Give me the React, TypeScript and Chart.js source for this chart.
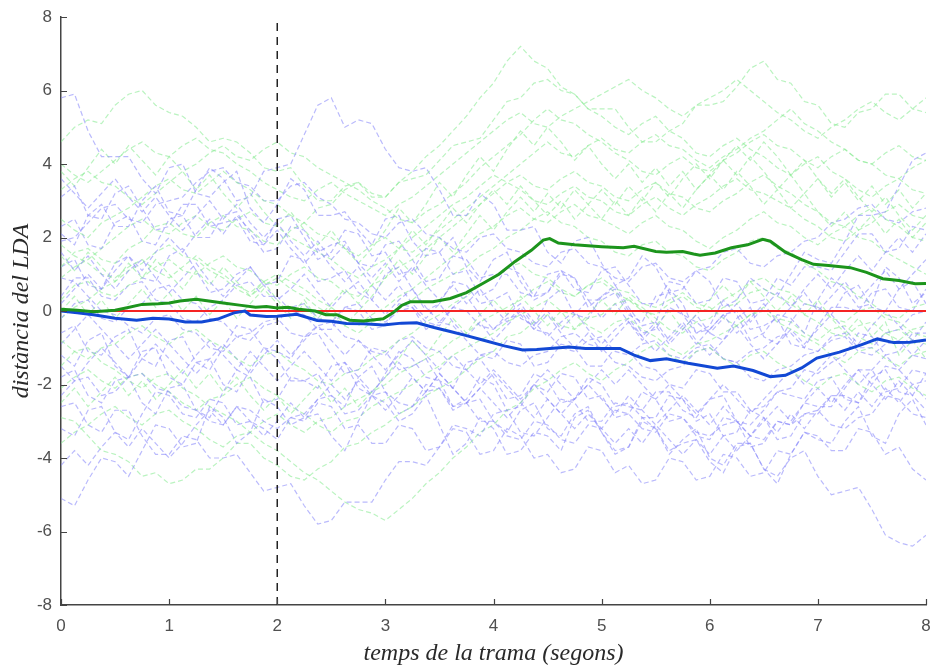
import React, { useEffect, useRef } from "react";
import { Chart, registerables } from "chart.js";
Chart.register(...registerables);

const traceTimes = [0,0.125,0.25,0.375,0.5,0.625,0.75,0.875,1,1.125,1.25,1.375,1.5,1.625,1.75,1.875,2,2.125,2.25,2.375,2.5,2.625,2.75,2.875,3,3.125,3.25,3.375,3.5,3.625,3.75,3.875,4,4.125,4.25,4.375,4.5,4.625,4.75,4.875,5,5.125,5.25,5.375,5.5,5.625,5.75,5.875,6,6.125,6.25,6.375,6.5,6.625,6.75,6.875,7,7.125,7.25,7.375,7.5,7.625,7.75,7.875,8];

const blueTraces: number[][] = [
  [5.8,5.9,4.9,4.2,4.2,4.2,3.6,3.2,3.9,4.0,3.2,3.1,3.5,3.8,2.8,2.4,2.9,3.6,3.3,2.6,2.6,2.7,2.2,1.8,2.5,2.6,1.9,1.5,1.6,2.0,1.2,0.8,1.4,1.6,0.8,0.3,0.5,1.0,0.9,0.1,0.4,0.7,0.1,-0.4,-0.3,0.6,0.2,-0.6,-0.4,0.3,-0.1,-0.8,-0.6,-0.1,-0.2,-0.6,0.3,0.9,0.6,0.1,0.2,1.2,0.9,0.2,0.5],
  [-5.1,-5.3,-4.6,-4.0,-4.1,-4.5,-3.8,-3.1,-3.2,-3.7,-3.6,-2.6,-2.9,-3.6,-3.3,-2.4,-2.6,-3.1,-2.9,-2.8,-3.4,-3.8,-3.0,-2.3,-2.5,-3.0,-2.8,-2.3,-3.1,-3.9,-3.6,-2.9,-3.2,-3.9,-3.8,-3.3,-3.4,-3.8,-2.9,-2.7,-3.3,-3.8,-3.7,-2.9,-3.2,-3.9,-3.5,-3.2,-4.0,-4.2,-3.6,-3.6,-4.3,-4.7,-3.9,-3.3,-3.5,-3.6,-3.0,-2.6,-3.4,-3.6,-2.8,-2.4,-3.1],
  [2.1,1.8,2.6,2.9,2.3,2.3,3.0,3.4,2.7,2.6,3.3,3.9,3.6,3.0,3.1,3.8,3.9,4.0,4.8,5.6,5.8,5.0,5.2,5.1,4.4,3.9,3.8,3.9,3.3,2.6,2.6,3.2,2.9,2.2,2.2,2.3,1.6,1.3,1.9,2.0,1.3,0.7,0.9,1.5,1.2,0.5,0.6,1.1,0.8,0.1,0.3,0.9,0.6,0.4,1.0,1.6,1.4,1.3,1.9,2.6,2.6,2.7,3.4,4.1,4.3],
  [-1.2,-1.5,-0.8,-0.6,-1.5,-1.8,-1.1,-1.0,-1.8,-2.0,-1.4,-1.3,-2.0,-2.2,-1.6,-1.0,-1.3,-1.9,-1.9,-1.7,-2.3,-2.6,-1.8,-1.5,-2.2,-2.8,-2.6,-2.0,-2.1,-2.7,-2.5,-2.4,-3.0,-3.3,-2.7,-2.5,-3.2,-3.4,-2.8,-2.6,-3.3,-3.9,-3.7,-3.0,-3.2,-3.8,-3.6,-3.5,-4.1,-4.4,-3.7,-3.6,-4.3,-4.5,-4.0,-3.8,-4.5,-5.0,-4.9,-4.8,-5.4,-6.1,-6.3,-6.4,-6.1],
  [-2.6,-2.5,-3.1,-3.3,-2.7,-2.7,-3.4,-3.9,-3.9,-3.4,-3.5,-4.0,-4.0,-3.9,-4.4,-4.9,-4.8,-4.7,-5.3,-5.8,-5.7,-5.2,-5.2,-5.2,-4.6,-4.1,-4.1,-4.2,-3.7,-3.1,-3.2,-3.4,-2.8,-2.7,-3.3,-3.4,-2.9,-2.4,-2.5,-3.0,-3.0,-2.5,-2.6,-2.7,-2.2,-2.2,-2.7,-2.9,-2.4,-2.3,-3.0,-3.1,-2.7,-2.2,-2.3,-2.4,-1.9,-1.8,-2.4,-2.5,-2.0,-1.5,-1.6,-2.0,-1.9],
  [1.2,1.4,0.7,0.6,1.3,1.5,0.9,0.8,1.5,1.7,1.1,0.5,0.6,1.0,1.2,0.7,0.8,1.5,1.4,0.8,0.9,1.1,0.5,0.3,1.0,1.2,0.6,0.0,0.2,0.8,0.7,0.2,0.3,0.5,-0.2,-0.4,0.3,0.6,-0.1,-0.2,0.4,0.6,0.0,-0.6,-0.5,0.1,-0.1,-0.3,-0.6,-0.8,-0.2,0.1,-0.7,-0.9,-0.3,0.2,0.1,-0.1,0.5,0.7,0.1,0.0,0.6,0.8,0.2],
  [-0.6,-0.4,-1.1,-1.2,-0.7,-0.5,-1.3,-1.5,-0.8,-0.7,-1.4,-1.6,-1.0,-0.4,-0.5,-1.0,-1.1,-1.3,-0.7,-0.6,-1.2,-1.7,-1.6,-1.0,-1.1,-1.6,-1.5,-1.3,-1.9,-2.1,-1.4,-1.3,-1.8,-2.4,-2.3,-1.7,-1.9,-2.5,-2.4,-1.8,-2.0,-2.6,-2.5,-2.9,-2.9,-2.3,-2.4,-3.0,-2.8,-3.4,-3.3,-2.7,-2.9,-3.5,-3.4,-2.8,-2.8,-2.3,-2.3,-2.5,-1.8,-1.6,-2.2,-2.3,-1.7],
  [3.1,3.4,2.6,2.5,3.2,3.4,2.8,2.2,2.3,2.9,2.9,2.3,2.4,2.5,1.9,1.8,2.5,2.6,2.0,1.4,1.6,2.2,2.1,1.5,1.6,1.0,1.1,1.7,1.6,1.0,1.1,0.4,0.6,1.2,1.0,0.4,0.5,1.1,0.9,0.3,0.3,0.5,-0.1,-0.3,0.4,0.5,-0.1,-0.6,-0.5,-0.1,0.0,-0.5,-0.4,-0.2,-0.9,-1.0,-0.4,0.1,0.1,0.0,0.5,0.6,0.1,0.0,0.6],
  [-1.8,-1.6,-2.3,-2.5,-1.9,-1.8,-2.5,-2.8,-2.1,-2.0,-2.7,-2.9,-2.2,-1.6,-1.8,-2.5,-2.4,-1.8,-1.9,-2.1,-1.5,-1.4,-2.1,-2.3,-1.7,-1.1,-1.3,-1.8,-1.9,-2.6,-2.4,-1.8,-2.0,-2.7,-2.6,-2.0,-2.2,-1.7,-1.8,-2.4,-2.3,-2.9,-2.8,-2.2,-2.4,-3.0,-2.9,-3.4,-3.5,-2.9,-3.0,-3.7,-3.6,-3.0,-3.1,-2.5,-2.6,-2.6,-2.1,-1.6,-1.6,-2.2,-2.1,-1.6,-1.7],
  [0.4,0.9,0.9,0.4,0.3,0.7,0.8,0.3,0.2,-0.2,-0.3,0.1,0.3,0.7,0.8,0.4,0.4,0.0,-0.1,-0.5,-0.5,0.1,0.0,-0.5,-0.4,0.2,0.1,-0.5,-0.3,-0.4,-0.8,-1.2,-1.3,-0.8,-0.9,-1.5,-1.4,-0.9,-1.0,-1.5,-1.5,-1.0,-1.1,-1.5,-1.6,-2.0,-2.1,-1.6,-1.7,-2.2,-2.2,-2.7,-2.6,-2.2,-2.1,-1.6,-1.7,-1.4,-1.2,-0.6,-0.7,-1.2,-1.1,-0.6,-0.6],
  [2.3,2.5,1.8,1.7,2.4,2.6,1.9,1.8,2.5,2.6,2.0,2.0,2.6,2.7,2.1,1.6,1.7,2.3,2.2,1.6,1.8,1.9,1.3,1.2,1.8,1.9,1.4,0.8,0.9,1.5,1.4,0.9,1.0,1.0,0.5,0.4,1.0,1.1,0.6,0.5,1.1,1.2,0.7,0.2,0.2,0.8,0.7,0.2,0.3,0.9,0.8,0.2,0.3,0.9,0.7,1.2,1.2,1.1,1.6,2.1,2.1,1.6,1.7,2.3,2.2],
  [-3.2,-3.4,-2.7,-2.6,-3.3,-3.5,-2.8,-2.2,-2.3,-2.8,-2.9,-2.4,-2.5,-3.1,-3.0,-3.2,-3.5,-2.9,-3.0,-2.5,-2.6,-3.2,-3.1,-3.6,-3.6,-3.1,-3.2,-3.8,-3.7,-3.2,-3.3,-3.9,-3.8,-3.2,-3.4,-4.0,-3.9,-4.4,-4.3,-3.7,-3.8,-4.4,-4.2,-4.7,-4.6,-4.0,-4.1,-4.6,-4.5,-3.9,-4.0,-4.5,-4.4,-3.8,-3.9,-3.3,-3.4,-3.8,-3.8,-3.2,-3.3,-3.9,-3.7,-4.3,-4.6],
  [-0.2,0.2,0.3,-0.2,-0.3,0.1,0.2,0.6,0.7,0.3,0.2,-0.2,-0.3,-0.7,-0.8,-0.4,-0.3,0.1,0.2,-0.2,-0.3,-0.7,-0.8,-1.1,-1.2,-0.8,-0.7,-1.0,-1.1,-1.5,-1.6,-1.2,-1.1,-1.4,-1.5,-1.2,-1.1,-0.7,-0.6,-0.9,-1.0,-1.4,-1.5,-1.8,-1.9,-1.6,-1.5,-1.1,-1.0,-1.3,-1.4,-1.8,-1.9,-1.6,-1.5,-1.2,-1.1,-0.7,-0.6,-1.0,-1.0,-0.6,-0.5,-0.1,0.0],
  [1.9,2.0,2.4,2.8,2.9,2.5,2.4,2.9,3.0,3.1,3.5,3.8,3.9,3.5,3.4,3.0,3.0,3.4,3.5,3.1,2.9,2.5,2.4,2.1,2.0,2.4,2.5,2.1,2.0,1.7,1.6,2.0,2.1,1.7,1.6,1.3,1.2,1.6,1.7,1.3,1.2,0.9,0.8,1.2,1.3,0.9,0.8,1.1,1.2,1.6,1.7,1.3,1.2,1.5,1.6,1.9,2.0,2.4,2.5,2.8,2.9,2.5,2.4,2.7,2.8],
  [-2.3,-1.9,-1.8,-2.3,-2.2,-1.8,-1.7,-2.1,-2.2,-2.6,-2.7,-3.0,-3.1,-2.6,-2.7,-3.0,-3.2,-2.9,-2.8,-2.4,-2.3,-2.8,-2.7,-2.3,-2.2,-2.5,-2.6,-2.2,-2.1,-2.6,-2.5,-3.0,-3.0,-3.4,-3.5,-3.0,-3.1,-3.5,-3.6,-3.1,-3.2,-2.7,-2.8,-3.2,-3.3,-2.8,-2.9,-3.3,-3.4,-3.1,-3.0,-3.4,-3.5,-3.0,-3.1,-2.8,-2.7,-3.1,-3.2,-2.9,-2.8,-2.3,-2.4,-2.8,-2.9],
  [0.9,0.8,0.4,0.0,-0.1,-0.4,-0.6,-0.2,-0.1,-0.5,-0.6,-1.0,-1.1,-0.7,-0.6,-0.3,-0.2,-0.6,-0.7,-0.4,-0.3,0.1,0.2,-0.2,-0.3,0.0,0.1,-0.3,-0.4,0.1,0.0,-0.4,-0.5,-0.2,-0.1,-0.5,-0.6,-1.0,-1.1,-0.8,-0.7,-1.1,-1.2,-0.9,-0.8,-1.2,-1.3,-1.0,-0.9,-1.3,-1.4,-1.1,-1.0,-0.7,-0.6,-1.0,-1.1,-0.8,-0.7,-1.1,-1.2,-0.9,-0.8,-1.2,-1.3],
  [1.6,1.1,1.5,1.0,0.6,1.1,1.4,0.9,0.5,0.9,1.3,0.8,0.4,0.8,1.2,0.7,0.3,0.6,1.0,0.5,0.1,0.5,0.8,0.3,-0.1,0.3,0.6,0.1,-0.3,0.1,0.4,-0.1,-0.5,-0.1,0.2,-0.3,-0.7,-0.3,0.0,-0.5,-0.9,-0.5,-0.2,-0.7,-1.1,-0.7,-0.3,-0.8,-1.2,-0.8,-0.4,-0.9,-1.3,-0.9,-0.5,-0.9,-0.5,-0.1,-0.5,-0.9,-0.4,0.0,-0.4,-0.8,-0.3],
  [-1.5,-1.9,-1.4,-1.0,-1.4,-1.8,-1.3,-0.9,-1.3,-1.7,-1.2,-0.8,-1.2,-1.6,-1.1,-1.5,-1.9,-1.5,-1.1,-1.5,-1.9,-1.4,-1.8,-2.2,-1.8,-1.4,-1.8,-2.2,-1.7,-2.1,-2.5,-2.1,-1.7,-2.1,-2.5,-2.0,-2.4,-2.8,-2.4,-2.0,-2.4,-2.8,-2.3,-2.7,-3.1,-2.7,-2.3,-2.7,-3.1,-2.6,-3.0,-3.4,-3.0,-2.6,-3.0,-2.5,-2.1,-2.5,-2.0,-1.6,-2.0,-2.4,-1.9,-2.3,-2.7],
  [0.2,0.6,1.0,0.6,1.1,1.5,1.1,1.6,2.0,1.6,2.1,2.5,2.1,2.6,2.2,1.8,2.2,1.7,1.3,1.7,1.2,0.8,1.2,0.7,0.3,0.7,0.2,-0.2,0.2,-0.3,-0.7,-0.3,-0.8,-0.4,0.0,-0.5,-0.1,-0.6,-1.0,-0.6,-1.1,-0.7,-0.3,-0.8,-0.4,-0.9,-0.5,-0.1,-0.6,-0.2,0.2,-0.3,0.1,0.5,0.1,0.6,1.0,0.6,1.1,1.5,1.1,1.6,2.0,1.6,2.1],
  [-0.9,-0.5,-0.1,-0.5,-0.9,-1.3,-0.9,-0.5,-0.9,-1.3,-1.7,-1.3,-0.9,-1.3,-1.7,-1.2,-0.8,-1.2,-0.8,-0.4,-0.8,-1.2,-0.8,-1.2,-1.6,-1.2,-0.8,-1.2,-1.6,-1.2,-1.6,-2.0,-1.6,-2.0,-2.4,-2.0,-1.6,-2.0,-2.4,-2.0,-1.6,-2.0,-1.6,-2.0,-2.4,-2.0,-2.4,-2.8,-2.4,-2.0,-2.4,-2.8,-2.4,-2.0,-1.6,-2.0,-1.6,-1.2,-1.6,-2.0,-1.6,-1.2,-1.6,-1.2,-0.8],
  [3.6,3.2,2.8,3.2,3.6,3.1,2.7,3.1,2.6,2.2,2.6,3.0,2.5,2.9,2.4,2.0,2.4,1.9,1.5,1.9,1.4,1.8,1.3,0.9,1.3,0.8,1.2,0.7,0.3,0.7,0.2,0.6,0.1,-0.3,0.1,-0.4,0.0,-0.5,-0.1,0.3,-0.2,0.2,-0.3,-0.7,-0.3,-0.8,-0.4,-0.9,-0.5,-0.1,-0.6,-0.2,0.2,-0.3,0.1,0.5,0.0,0.4,0.8,0.3,0.7,1.1,0.6,1.0,1.4],
  [-4.2,-3.8,-4.2,-3.7,-3.3,-3.7,-3.2,-3.6,-4.0,-3.6,-3.1,-2.7,-3.1,-2.6,-3.0,-3.4,-3.0,-2.5,-2.9,-2.4,-2.0,-2.4,-1.9,-2.3,-2.7,-2.3,-1.8,-2.2,-1.7,-2.1,-2.5,-2.1,-2.5,-2.9,-2.5,-2.9,-2.4,-2.8,-3.2,-2.8,-3.2,-3.6,-3.2,-3.6,-3.1,-3.5,-3.9,-3.5,-3.9,-3.4,-3.8,-3.4,-2.9,-3.3,-2.8,-3.2,-2.7,-2.3,-2.7,-2.2,-2.6,-2.1,-2.5,-2.0,-2.4],
];

const greenTraces: number[][] = [
  [4.6,5.0,5.2,5.1,5.6,5.9,6.0,5.6,5.4,5.3,5.0,4.6,4.7,4.6,4.3,3.9,3.8,3.9,3.4,3.0,3.0,3.4,3.5,3.1,3.1,3.5,3.6,3.7,4.1,4.5,4.6,4.7,5.2,5.7,5.8,6.2,6.3,6.0,5.9,5.5,5.5,5.5,5.0,4.6,4.6,4.9,5.1,5.6,5.6,5.7,6.1,6.6,6.8,6.3,6.2,5.7,5.6,5.1,5.0,5.4,5.5,5.9,5.9,5.5,5.4],
  [-2.9,-3.0,-3.4,-3.8,-3.9,-4.1,-4.5,-4.4,-4.7,-4.6,-4.3,-4.3,-4.0,-3.6,-3.6,-4.0,-4.2,-4.5,-4.6,-4.3,-4.1,-3.7,-3.6,-3.3,-3.1,-2.8,-2.6,-2.3,-2.1,-1.9,-1.6,-1.3,-1.1,-0.7,-0.6,-0.3,-0.1,-0.4,-0.5,-0.2,-0.1,0.2,0.3,0.1,-0.2,-0.5,-0.6,-0.3,-0.2,0.1,0.2,0.5,0.6,0.4,0.2,-0.1,-0.3,-0.6,-0.7,-0.4,-0.3,-0.6,-0.8,-0.5,-0.4],
  [1.2,1.6,1.7,1.4,1.3,1.7,1.9,2.3,2.4,2.1,2.0,2.4,2.6,2.3,2.2,1.9,1.8,2.2,2.4,2.8,2.9,3.3,3.5,3.2,3.1,3.5,3.8,4.2,4.5,4.9,5.3,5.8,6.2,6.8,7.2,6.8,6.6,6.1,5.9,5.5,5.3,5.0,4.8,5.1,5.3,4.9,4.7,4.3,4.2,4.5,4.7,4.4,4.2,3.9,3.7,4.0,4.2,3.8,3.6,3.3,3.1,3.4,3.6,3.3,3.2],
  [-1.5,-1.1,-1.0,-1.4,-1.6,-1.9,-2.1,-1.8,-1.7,-2.1,-2.3,-2.6,-2.8,-3.0,-3.3,-3.6,-3.8,-4.1,-4.4,-4.6,-4.9,-5.2,-5.4,-5.5,-5.7,-5.4,-5.1,-4.7,-4.4,-4.0,-3.7,-3.3,-3.1,-2.7,-2.5,-2.1,-1.9,-1.6,-1.4,-1.7,-1.9,-1.6,-1.4,-1.1,-0.9,-1.2,-1.4,-1.1,-1.0,-1.3,-1.5,-1.2,-1.1,-1.4,-1.6,-1.9,-2.1,-1.8,-1.7,-2.0,-2.2,-1.9,-1.8,-2.1,-2.3],
  [0.3,0.7,0.8,0.5,0.4,0.7,0.9,1.2,1.4,1.1,1.0,1.3,1.5,1.2,1.1,0.8,0.7,1.0,1.2,0.9,0.8,0.5,0.4,0.7,0.9,1.2,1.4,1.7,2.0,2.3,2.6,2.9,3.2,3.5,3.7,3.4,3.3,3.6,3.8,3.5,3.4,3.1,3.0,3.3,3.5,3.2,3.1,2.8,2.7,3.0,3.2,3.5,3.7,3.4,3.2,2.9,2.7,2.4,2.3,2.6,2.8,2.5,2.3,2.0,1.9],
  [2.5,2.2,2.0,2.4,2.6,2.8,3.1,3.4,3.6,3.3,3.2,3.5,3.8,3.5,3.3,3.0,2.9,2.6,2.4,2.1,2.0,1.7,1.5,1.8,2.0,1.7,1.6,1.9,2.2,2.5,2.8,3.1,3.4,3.7,4.0,4.3,4.6,4.3,4.2,4.5,4.7,4.4,4.3,4.6,4.8,4.5,4.4,4.1,3.9,4.2,4.4,4.7,4.9,5.2,5.5,5.1,4.9,4.6,4.4,4.1,4.0,4.3,4.5,4.2,4.1],
  [-0.8,-1.1,-1.3,-1.0,-0.9,-0.6,-0.4,-0.7,-0.9,-0.6,-0.5,-0.8,-1.0,-1.3,-1.5,-1.2,-1.1,-1.4,-1.6,-1.9,-2.0,-1.7,-1.6,-1.3,-1.1,-0.8,-0.6,-0.3,-0.1,0.2,0.4,0.7,0.9,1.2,1.3,1.0,0.9,0.6,0.4,0.7,0.8,0.5,0.3,0.0,-0.1,0.2,0.4,0.1,0.0,0.3,0.5,0.8,0.9,0.6,0.5,0.2,0.1,-0.2,-0.3,0.0,0.1,-0.2,-0.3,-0.6,-0.7],
  [3.3,3.6,3.8,3.5,3.4,3.1,2.9,3.2,3.5,3.8,4.0,4.3,4.5,4.2,4.1,4.4,4.6,4.3,4.2,3.9,3.7,3.5,3.3,3.0,2.8,2.5,2.4,2.7,2.9,3.2,3.5,3.9,4.2,4.5,4.8,5.2,5.5,5.2,5.1,4.8,4.6,4.3,4.1,3.8,3.7,4.0,4.2,3.9,3.8,4.1,4.3,4.6,4.8,4.5,4.4,4.1,3.9,4.2,4.4,4.1,4.0,3.7,3.6,3.9,4.1],
  [-2.1,-1.8,-1.6,-1.9,-2.1,-1.8,-1.7,-2.0,-2.2,-2.5,-2.7,-2.4,-2.3,-2.0,-1.8,-2.1,-2.3,-2.6,-2.8,-3.1,-3.3,-3.0,-2.9,-2.6,-2.4,-2.2,-2.0,-1.7,-1.5,-1.2,-1.0,-0.8,-0.6,-0.3,-0.1,0.1,0.3,0.0,-0.1,-0.4,-0.6,-0.3,-0.2,-0.5,-0.7,-1.0,-1.2,-0.9,-0.8,-0.6,-0.4,-0.1,0.0,-0.3,-0.5,-0.7,-0.9,-1.2,-1.4,-1.1,-1.0,-1.3,-1.5,-1.2,-1.1],
  [1.8,1.5,1.3,1.0,0.9,1.2,1.4,1.1,0.9,1.2,1.5,1.2,1.0,0.7,0.5,0.8,1.0,0.8,0.6,0.3,0.1,-0.2,-0.4,-0.1,0.1,0.4,0.6,0.9,1.2,1.5,1.8,2.1,2.3,2.6,2.8,2.5,2.4,2.7,2.9,2.6,2.5,2.3,2.1,2.4,2.6,2.3,2.2,1.9,1.7,2.0,2.2,2.5,2.7,2.4,2.3,2.0,1.8,2.1,2.3,2.0,1.9,1.6,1.4,1.2,1.0],
  [-0.2,0.1,0.3,0.6,0.8,1.1,1.3,1.6,1.8,1.5,1.4,1.1,0.9,0.6,0.4,0.7,0.9,0.6,0.4,0.1,-0.1,-0.4,-0.6,-0.3,-0.2,0.1,0.3,0.6,0.8,1.0,1.2,1.5,1.7,2.0,2.2,2.5,2.7,2.4,2.3,2.0,1.9,1.6,1.5,1.8,1.9,1.6,1.5,1.2,1.1,1.4,1.6,1.9,2.0,1.7,1.6,1.3,1.1,0.8,0.7,0.4,0.2,-0.1,-0.2,0.1,0.2],
  [4.0,3.7,3.5,3.8,4.1,4.4,4.6,4.3,4.2,4.5,4.7,4.4,4.3,4.0,3.8,3.5,3.3,3.1,3.0,3.3,3.5,3.2,3.0,2.8,2.6,2.9,3.1,3.4,3.7,4.0,4.3,4.6,4.9,5.2,5.4,5.1,5.0,5.3,5.5,5.7,5.9,6.1,6.3,6.0,5.8,5.5,5.3,5.6,5.8,6.0,6.3,6.0,5.7,5.4,5.2,4.9,4.7,5.0,5.2,5.5,5.7,5.4,5.2,5.5,5.8],
  [-3.6,-3.3,-3.1,-2.8,-2.6,-2.9,-3.1,-2.8,-2.7,-3.0,-3.2,-3.5,-3.7,-3.4,-3.3,-3.0,-2.8,-3.1,-3.3,-3.0,-2.9,-2.6,-2.4,-2.2,-2.0,-1.7,-1.5,-1.3,-1.1,-0.8,-0.6,-0.3,-0.1,0.1,0.3,0.6,0.8,0.5,0.4,0.7,0.9,0.6,0.5,0.2,0.1,0.3,0.5,0.2,0.1,-0.2,-0.4,-0.1,0.1,-0.2,-0.3,-0.6,-0.8,-0.5,-0.4,-0.7,-0.9,-0.6,-0.5,-0.8,-0.9],
  [0.9,1.2,1.4,1.7,2.0,2.3,2.5,2.2,2.1,2.4,2.6,2.3,2.2,2.5,2.7,2.4,2.3,2.0,1.8,1.6,1.4,1.1,0.9,1.2,1.4,1.7,2.0,2.3,2.6,2.9,3.1,3.4,3.7,3.5,3.3,3.0,2.9,3.2,3.4,3.1,3.0,2.7,2.6,2.9,3.1,2.8,2.6,2.9,3.1,3.4,3.6,3.3,3.2,3.0,2.8,2.5,2.3,2.0,1.9,2.2,2.4,2.7,2.9,2.6,2.5],
  [0.0,0.4,-0.1,0.3,-0.2,0.2,0.6,0.1,0.5,0.0,0.4,-0.1,0.3,-0.2,0.2,0.6,0.2,-0.2,0.2,-0.3,0.1,-0.4,0.0,0.4,0.9,1.4,1.0,1.5,2.0,1.6,2.1,2.6,2.2,2.7,3.1,2.7,3.2,2.8,3.3,2.9,2.5,3.0,2.6,3.1,2.7,3.2,2.8,3.3,3.7,3.3,3.8,3.4,2.9,3.3,2.8,3.2,2.7,2.3,2.7,2.2,2.6,2.1,2.5,2.0,2.4],
  [1.5,1.1,1.6,1.2,0.8,1.3,0.9,1.4,1.0,0.6,1.1,0.7,1.2,0.8,0.4,0.8,0.3,-0.1,0.3,-0.2,0.2,0.6,0.2,0.7,1.2,1.7,2.2,1.8,2.3,2.8,2.4,2.9,3.3,2.9,3.4,3.0,2.6,3.0,2.5,2.9,3.3,2.9,3.4,3.0,3.5,3.1,3.6,4.0,3.6,4.1,4.5,4.1,4.6,4.2,3.7,4.1,3.6,3.2,3.6,3.1,2.7,3.1,2.6,2.2,2.6],
  [-2.5,-2.1,-2.6,-2.2,-1.8,-2.3,-1.9,-2.4,-2.0,-1.6,-2.1,-1.7,-2.2,-1.8,-2.3,-2.7,-2.3,-2.8,-2.4,-2.0,-2.5,-2.1,-2.6,-2.2,-1.8,-1.3,-0.8,-1.2,-0.7,-0.2,-0.6,-0.1,0.3,-0.1,0.4,0.0,-0.4,0.0,-0.5,-0.1,0.3,-0.1,0.4,0.0,-0.4,0.0,-0.5,-0.1,0.3,0.7,0.3,0.8,0.4,0.0,0.4,-0.1,0.3,-0.2,-0.6,-0.2,-0.7,-0.3,-1.2,-0.8,-1.3],
  [3.8,3.4,3.9,4.4,4.0,4.5,4.1,3.7,4.2,3.8,3.3,3.7,3.2,2.8,3.2,2.7,2.3,2.7,2.2,1.8,2.2,1.7,1.3,1.7,2.2,2.8,2.4,2.9,3.5,3.1,3.7,4.2,3.8,4.4,4.9,4.5,5.0,4.6,4.1,4.5,4.0,3.6,4.0,3.5,3.9,3.4,3.8,3.3,3.7,4.1,3.7,4.2,3.8,3.3,3.7,3.2,3.6,3.1,3.5,3.0,3.4,2.9,3.3,2.8,3.2],
];

const greenMeanX = [0,0.15,0.3,0.5,0.6,0.75,0.9,1.0,1.1,1.25,1.4,1.5,1.65,1.8,1.9,2.0,2.1,2.2,2.35,2.45,2.55,2.67,2.8,2.98,3.07,3.15,3.23,3.44,3.6,3.75,3.9,4.05,4.2,4.35,4.46,4.52,4.6,4.75,5.0,5.2,5.3,5.5,5.6,5.75,5.85,5.91,6.05,6.2,6.35,6.49,6.56,6.7,6.85,6.96,7.1,7.3,7.45,7.6,7.75,7.9,8.0];
const greenMeanY = [0.05,0.02,-0.02,0.02,0.08,0.18,0.2,0.22,0.27,0.32,0.26,0.22,0.16,0.1,0.12,0.08,0.1,0.05,0.0,-0.1,-0.1,-0.25,-0.27,-0.21,-0.05,0.15,0.25,0.25,0.34,0.5,0.75,1.0,1.35,1.65,1.93,1.97,1.85,1.8,1.75,1.72,1.76,1.62,1.6,1.62,1.55,1.52,1.58,1.72,1.8,1.95,1.9,1.6,1.4,1.27,1.24,1.18,1.05,0.88,0.83,0.74,0.75];

const blueMeanX = [0,0.15,0.3,0.5,0.7,0.85,1.0,1.15,1.3,1.45,1.6,1.7,1.75,1.9,2.0,2.18,2.37,2.5,2.64,2.8,2.98,3.15,3.29,3.45,3.6,3.75,3.9,4.1,4.27,4.4,4.52,4.7,4.85,4.99,5.17,5.3,5.45,5.6,5.8,6.07,6.22,6.4,6.56,6.7,6.85,6.99,7.2,7.4,7.55,7.7,7.85,8.0];
const blueMeanY = [0.0,-0.05,-0.1,-0.2,-0.25,-0.2,-0.22,-0.3,-0.3,-0.22,-0.05,0.0,-0.11,-0.15,-0.14,-0.09,-0.26,-0.28,-0.34,-0.35,-0.38,-0.33,-0.32,-0.45,-0.56,-0.67,-0.79,-0.95,-1.06,-1.05,-1.02,-0.98,-1.02,-1.02,-1.02,-1.2,-1.35,-1.3,-1.42,-1.56,-1.5,-1.62,-1.79,-1.75,-1.55,-1.28,-1.12,-0.92,-0.76,-0.86,-0.85,-0.79];

const xTicks = [0, 1, 2, 3, 4, 5, 6, 7, 8];
const yTicks = [-8, -6, -4, -2, 0, 2, 4, 6, 8];
const xRange = [0, 8];
const yRange = [-8, 8];
const markerTime = 2;
const xTitle = "temps de la trama (segons)";
const yTitle = "distància del LDA";

const inwardTicks = {
  id: "inwardTicks",
  afterDraw(chart: any) {
    const { ctx, chartArea, scales } = chart;
    ctx.save();
    ctx.strokeStyle = "#444";
    ctx.lineWidth = 1.2;
    ctx.beginPath();
    for (const v of xTicks) {
      const px = Math.round(scales.x.getPixelForValue(v)) + 0.5;
      ctx.moveTo(px, chartArea.bottom);
      ctx.lineTo(px, chartArea.bottom - 6);
    }
    for (const v of yTicks) {
      const py = Math.round(scales.y.getPixelForValue(v)) + 0.5;
      ctx.moveTo(chartArea.left, py);
      ctx.lineTo(chartArea.left + 6, py);
    }
    ctx.stroke();
    ctx.restore();
  },
};

export default function App() {
  const ref = useRef<HTMLCanvasElement>(null);
  useEffect(() => {
    document.body.style.margin = "0";
    const datasets: any[] = [];
    datasets.push({
      data: greenMeanX.map((x, i) => ({ x, y: greenMeanY[i] })),
      borderColor: "rgb(28,148,28)", borderWidth: 3, order: 0,
    });
    datasets.push({
      data: blueMeanX.map((x, i) => ({ x, y: blueMeanY[i] })),
      borderColor: "rgb(18,72,212)", borderWidth: 3, order: 1,
    });
    datasets.push({
      data: [{ x: xRange[0], y: 0 }, { x: xRange[1], y: 0 }],
      borderColor: "rgb(245,35,35)", borderWidth: 2.2, order: 2,
    });
    datasets.push({
      data: [{ x: markerTime, y: yRange[0] }, { x: markerTime, y: yRange[1] }],
      borderColor: "#222", borderWidth: 1.5, borderDash: [8, 6], order: 3,
    });
    blueTraces.forEach((tr, k) => {
      datasets.push({
        data: tr.map((y, i) => ({ x: traceTimes[i], y })).filter((p) => p.x !== undefined),
        borderColor: "rgba(140,140,250,0.6)", borderWidth: 1.2, borderDash: [5, 3], order: 10 + k,
      });
    });
    greenTraces.forEach((tr, k) => {
      datasets.push({
        data: tr.map((y, i) => ({ x: traceTimes[i], y })).filter((p) => p.x !== undefined),
        borderColor: "rgba(140,235,150,0.6)", borderWidth: 1.2, borderDash: [5, 3], order: 9 + k * 2,
      });
    });
    const tickFont = { family: "'Liberation Sans', Arial, sans-serif", size: 17 };
    const titleFont = { family: "'Liberation Serif', 'Times New Roman', serif", size: 24, style: "italic" as const, lineHeight: 1 };
    const chart = new Chart(ref.current!, {
      type: "line",
      data: { datasets },
      options: {
        animation: false,
        responsive: false,
        parsing: false as any,
        layout: { padding: { left: 0, top: 17, right: 6, bottom: 0 } },
        elements: { point: { radius: 0 }, line: { tension: 0, fill: false } },
        plugins: { legend: { display: false }, tooltip: { enabled: false } },
        scales: {
          x: {
            type: "linear", min: xRange[0], max: xRange[1],
            grid: { display: false, drawTicks: false },
            border: { display: true, color: "#444", width: 1.5 },
            ticks: { stepSize: 1, color: "#505050", font: tickFont, padding: 11 },
            title: { display: true, text: xTitle, color: "#2a2a2a", font: titleFont, padding: { top: 0, bottom: 0 } },
            afterFit(s: any) { s.height = 61; s.paddingLeft = 0; s.paddingRight = 0; },
          },
          y: {
            type: "linear", min: yRange[0], max: yRange[1],
            grid: { display: false, drawTicks: false },
            border: { display: true, color: "#444", width: 1.5 },
            ticks: { stepSize: 2, color: "#505050", font: tickFont, padding: 9 },
            title: { display: true, text: yTitle, color: "#2a2a2a", font: titleFont, padding: { top: 10, bottom: 0 } },
            afterFit(s: any) { s.width = 61; s.paddingTop = 0; s.paddingBottom = 0; },
          },
        },
      },
      plugins: [inwardTicks],
    });
    return () => chart.destroy();
  }, []);
  return (
    <div style={{ width: 932, height: 666 }}>
      <canvas ref={ref} width={932} height={666} />
    </div>
  );
}
